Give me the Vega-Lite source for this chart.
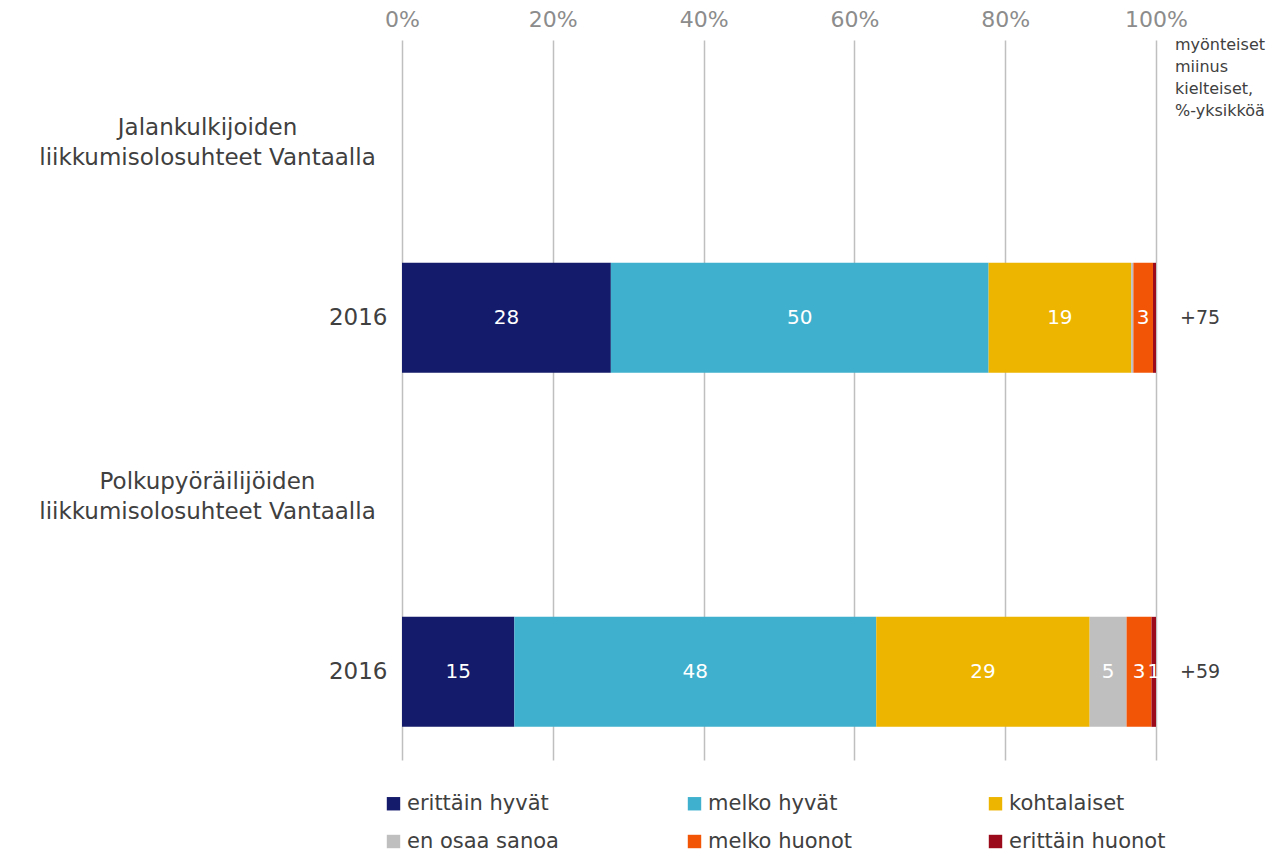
{
  "$schema": "https://vega.github.io/schema/vega-lite/v6.json",
  "width": 754,
  "height": 720,
  "autosize": {"type": "none"},
  "padding": {"left": 402, "top": 40, "right": 128, "bottom": 93},
  "background": "white",
  "config": {
    "font": "DejaVu Sans",
    "view": {"stroke": null},
    "text": {"font": "DejaVu Sans"}
  },
  "datasets": {
    "segments": [
      {"row": "b1", "category": "erittäin hyvät", "k": 1, "value": 27.7, "label": "28"},
      {"row": "b1", "category": "melko hyvät", "k": 2, "value": 50.1, "label": "50"},
      {"row": "b1", "category": "kohtalaiset", "k": 3, "value": 18.9, "label": "19"},
      {"row": "b1", "category": "en osaa sanoa", "k": 4, "value": 0.3, "label": ""},
      {"row": "b1", "category": "melko huonot", "k": 5, "value": 2.6, "label": "3"},
      {"row": "b1", "category": "erittäin huonot", "k": 6, "value": 0.4, "label": ""},
      {"row": "b2", "category": "erittäin hyvät", "k": 1, "value": 14.9, "label": "15"},
      {"row": "b2", "category": "melko hyvät", "k": 2, "value": 48.0, "label": "48"},
      {"row": "b2", "category": "kohtalaiset", "k": 3, "value": 28.3, "label": "29"},
      {"row": "b2", "category": "en osaa sanoa", "k": 4, "value": 4.9, "label": "5"},
      {"row": "b2", "category": "melko huonot", "k": 5, "value": 3.3, "label": "3"},
      {"row": "b2", "category": "erittäin huonot", "k": 6, "value": 0.6, "label": "1"}
    ],
    "net": [
      {"row": "b1", "net": "+75"},
      {"row": "b2", "net": "+59"}
    ],
    "note": [
      {"row": "h1", "note": "myönteiset\nmiinus\nkielteiset,\n%-yksikköä"}
    ]
  },
  "data": {"name": "segments"},
  "encoding": {
    "y": {
      "field": "row",
      "type": "nominal",
      "title": null,
      "scale": {"domain": ["h1", "b1", "h2", "b2"], "paddingInner": 0.3785, "paddingOuter": 0.223, "align": 0.58},
      "axis": {
        "domain": false,
        "ticks": false,
        "labelAlign": {"condition": {"test": "datum.value == 'h1' || datum.value == 'h2'", "value": "center"}, "value": "right"},
        "labelPadding": {"condition": {"test": "datum.value == 'h1' || datum.value == 'h2'", "value": 195}, "value": 15},
        "labelOffset": {"condition": {"test": "datum.value == 'h1' || datum.value == 'h2'", "value": -13}, "value": 0},
        "labelFontSize": 23,
        "labelColor": "#404040",
        "labelLineHeight": 30,
        "labelLimit": 500,
        "labelExpr": "datum.value == 'h1' ? ['Jalankulkijoiden', 'liikkumisolosuhteet Vantaalla'] : datum.value == 'h2' ? ['Polkupyöräilijöiden', 'liikkumisolosuhteet Vantaalla'] : '2016'"
      }
    }
  },
  "layer": [
    {
      "mark": {"type": "bar"},
      "encoding": {
        "x": {
          "field": "value",
          "type": "quantitative",
          "stack": "zero",
          "title": null,
          "scale": {"domain": [0, 100], "nice": false},
          "axis": {
            "orient": "top",
            "values": [0, 20, 40, 60, 80, 100],
            "labelExpr": "datum.value + '%'",
            "labelFontSize": 22,
            "labelColor": "#8C8C8C",
            "labelPadding": 9,
            "labelFlush": false,
            "domain": false,
            "ticks": false,
            "grid": true,
            "gridColor": "#BFBFBF",
            "gridWidth": 1.5
          }
        },
        "order": {"field": "k", "type": "quantitative"},
        "color": {
          "field": "category",
          "type": "nominal",
          "title": null,
          "scale": {
            "domain": ["erittäin hyvät", "melko hyvät", "kohtalaiset", "en osaa sanoa", "melko huonot", "erittäin huonot"],
            "range": ["#141B6A", "#3FB1CE", "#EDB500", "#BFBFBF", "#F25506", "#9B0A1B"]
          },
          "legend": {
            "orient": "none",
            "legendX": -19,
            "legendY": 753,
            "direction": "horizontal",
            "columns": 3,
            "gridAlign": "all",
            "columnPadding": 120,
            "rowPadding": 16,
            "padding": 0,
            "symbolType": "square",
            "symbolSize": 180,
            "symbolStrokeWidth": 0,
            "symbolOffset": 0,
            "labelOffset": 3,
            "labelFontSize": 21,
            "labelColor": "#404040",
            "labelLimit": 300
          }
        }
      }
    },
    {
      "mark": {"type": "text", "color": "white", "fontSize": 20, "baseline": "middle", "align": "center"},
      "encoding": {
        "x": {"field": "value", "type": "quantitative", "stack": "zero", "bandPosition": 0.5},
        "order": {"field": "k", "type": "quantitative"},
        "text": {"field": "label"}
      }
    },
    {
      "data": {"name": "net"},
      "mark": {"type": "text", "align": "left", "baseline": "middle", "dx": 24, "fontSize": 19, "color": "#404040"},
      "encoding": {
        "x": {"datum": 100, "type": "quantitative"},
        "text": {"field": "net"}
      }
    },
    {
      "data": {"name": "note"},
      "mark": {"type": "text", "align": "left", "baseline": "middle", "dx": 19, "dy": -96, "fontSize": 16, "lineHeight": 22, "lineBreak": "\n", "color": "#404040"},
      "encoding": {
        "x": {"datum": 100, "type": "quantitative"},
        "text": {"field": "note"}
      }
    }
  ]
}
